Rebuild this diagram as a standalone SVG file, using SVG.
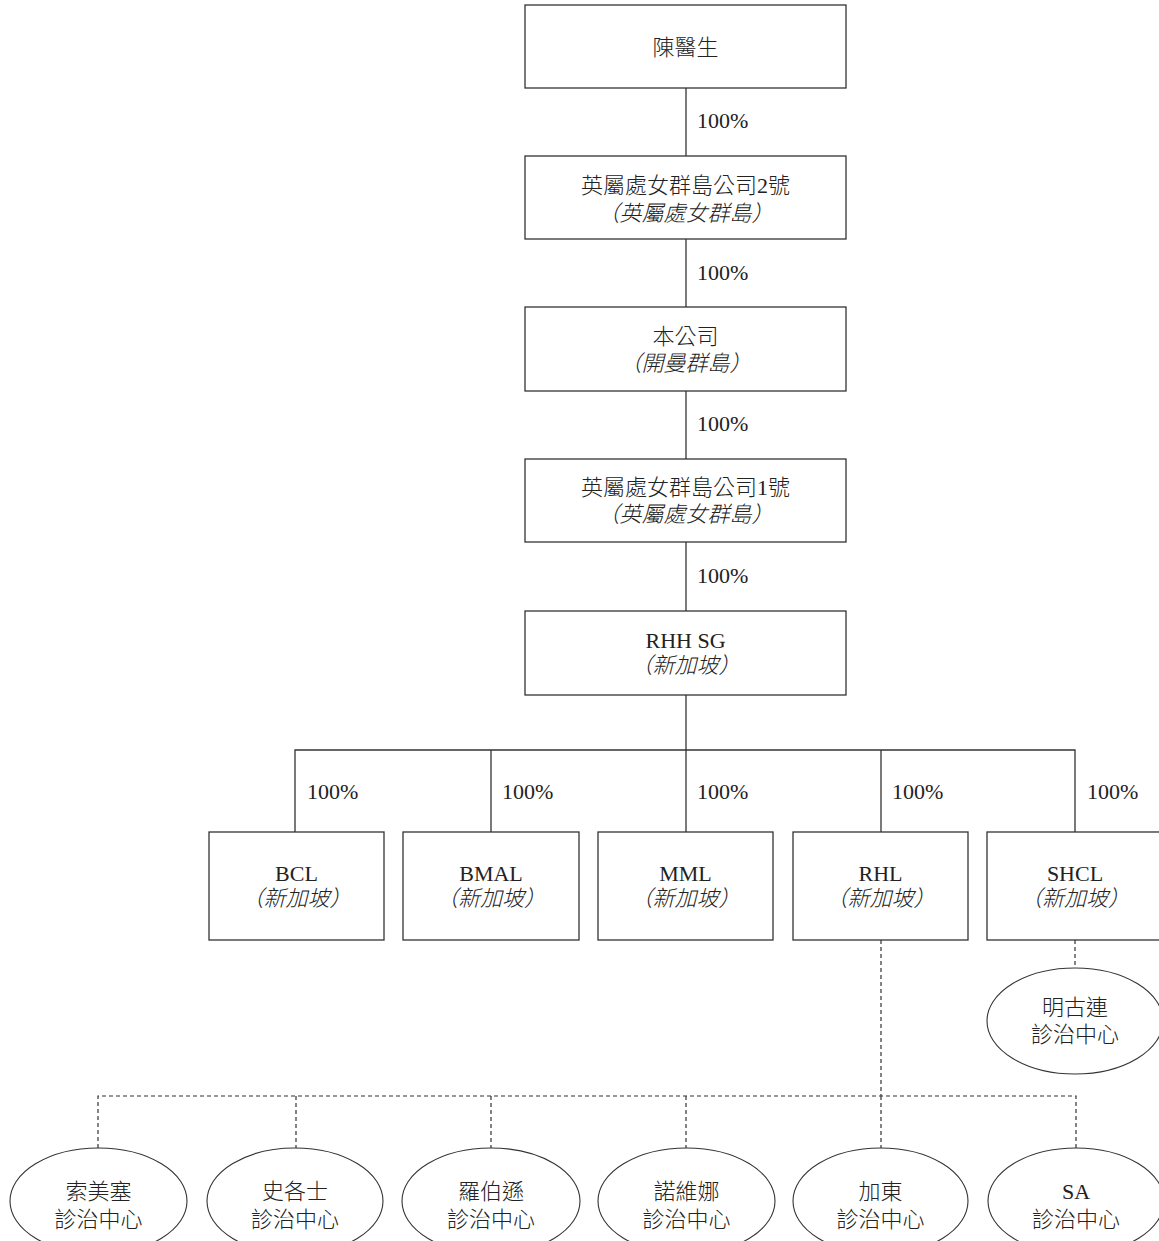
<svg xmlns="http://www.w3.org/2000/svg" width="1159" height="1241" viewBox="0 0 1159 1241">
<style>
.box{fill:#fff;stroke:#333;stroke-width:1.3}
.ell{fill:#fff;stroke:#333;stroke-width:1.1}
.ln{fill:none;stroke:#333;stroke-width:1.3}
.dl{fill:none;stroke:#333;stroke-width:1.2;stroke-dasharray:4 3}
text{font-family:"Liberation Serif","Noto Sans CJK TC",serif;font-size:22px;font-weight:300;fill:#222}
.c{text-anchor:middle}
.i{font-style:italic}
</style>
<rect width="1159" height="1241" fill="#fff"/>
<g id="connectors">
<line class="ln" x1="686" y1="88" x2="686" y2="156"/>
<line class="ln" x1="686" y1="239" x2="686" y2="307"/>
<line class="ln" x1="686" y1="391" x2="686" y2="459"/>
<line class="ln" x1="686" y1="542" x2="686" y2="611"/>
<line class="ln" x1="686" y1="695" x2="686" y2="750"/>
<polyline class="ln" points="295,832 295,750 1075,750 1075,832"/>
<line class="ln" x1="491" y1="750" x2="491" y2="832"/>
<line class="ln" x1="686" y1="750" x2="686" y2="832"/>
<line class="ln" x1="881" y1="750" x2="881" y2="832"/>
<text x="697" y="128">100%</text>
<text x="697" y="280">100%</text>
<text x="697" y="431">100%</text>
<text x="697" y="583">100%</text>
<text x="307" y="799">100%</text>
<text x="502" y="799">100%</text>
<text x="697" y="799">100%</text>
<text x="892" y="799">100%</text>
<text x="1087" y="799">100%</text>
<line class="dl" x1="1075" y1="940" x2="1075" y2="968"/>
<line class="dl" x1="881" y1="940" x2="881" y2="1096"/>
<polyline class="dl" points="98,1148 98,1096 1076,1096 1076,1148"/>
<line class="dl" x1="296" y1="1096" x2="296" y2="1148"/>
<line class="dl" x1="491" y1="1096" x2="491" y2="1148"/>
<line class="dl" x1="686" y1="1096" x2="686" y2="1148"/>
<line class="dl" x1="881" y1="1096" x2="881" y2="1148"/>
</g>
<g id="chen">
<rect class="box" x="525" y="5" width="321" height="83"/>
<text class="c" x="685.5" y="55">陳醫生</text>
</g>
<g id="bvi2">
<rect class="box" x="525" y="156" width="321" height="83"/>
<text class="c" x="685.5" y="193">英屬處女群島公司2號</text>
<text class="c i" x="685.5" y="221">（英屬處女群島）</text>
</g>
<g id="company">
<rect class="box" x="525" y="307" width="321" height="84"/>
<text class="c" x="685.5" y="344">本公司</text>
<text class="c i" x="685.5" y="371">（開曼群島）</text>
</g>
<g id="bvi1">
<rect class="box" x="525" y="459" width="321" height="83"/>
<text class="c" x="685.5" y="495">英屬處女群島公司1號</text>
<text class="c i" x="685.5" y="522">（英屬處女群島）</text>
</g>
<g id="rhhsg">
<rect class="box" x="525" y="611" width="321" height="84"/>
<text class="c" x="685.5" y="648">RHH SG</text>
<text class="c i" x="685.5" y="673">（新加坡）</text>
</g>
<g id="bcl">
<rect class="box" x="209" y="832" width="175" height="108"/>
<text class="c" x="296.5" y="881">BCL</text>
<text class="c i" x="296.5" y="906">（新加坡）</text>
</g>
<g id="bmal">
<rect class="box" x="403" y="832" width="176" height="108"/>
<text class="c" x="491" y="881">BMAL</text>
<text class="c i" x="491" y="906">（新加坡）</text>
</g>
<g id="mml">
<rect class="box" x="598" y="832" width="175" height="108"/>
<text class="c" x="685.5" y="881">MML</text>
<text class="c i" x="685.5" y="906">（新加坡）</text>
</g>
<g id="rhl">
<rect class="box" x="793" y="832" width="175" height="108"/>
<text class="c" x="880.5" y="881">RHL</text>
<text class="c i" x="880.5" y="906">（新加坡）</text>
</g>
<g id="shcl">
<rect class="box" x="987" y="832" width="176" height="108"/>
<text class="c" x="1075" y="881">SHCL</text>
<text class="c i" x="1075" y="906">（新加坡）</text>
</g>
<g id="minggulian">
<ellipse class="ell" cx="1075" cy="1021" rx="88" ry="53"/>
<text class="c" x="1075" y="1015">明古連</text>
<text class="c" x="1075" y="1042">診治中心</text>
</g>
<g id="suomeisai">
<ellipse class="ell" cx="98.5" cy="1201" rx="88.5" ry="53"/>
<text class="c" x="98.5" y="1199">索美塞</text>
<text class="c" x="98.5" y="1227">診治中心</text>
</g>
<g id="shigeshi">
<ellipse class="ell" cx="295" cy="1201" rx="88" ry="53"/>
<text class="c" x="295" y="1199">史各士</text>
<text class="c" x="295" y="1227">診治中心</text>
</g>
<g id="luobosun">
<ellipse class="ell" cx="491" cy="1201" rx="89" ry="53"/>
<text class="c" x="491" y="1199">羅伯遜</text>
<text class="c" x="491" y="1227">診治中心</text>
</g>
<g id="nuoweina">
<ellipse class="ell" cx="686.5" cy="1201" rx="88.5" ry="53"/>
<text class="c" x="686.5" y="1199">諾維娜</text>
<text class="c" x="686.5" y="1227">診治中心</text>
</g>
<g id="jiadong">
<ellipse class="ell" cx="880.5" cy="1201" rx="87.5" ry="53"/>
<text class="c" x="880.5" y="1199">加東</text>
<text class="c" x="880.5" y="1227">診治中心</text>
</g>
<g id="sa">
<ellipse class="ell" cx="1076" cy="1201" rx="88" ry="53"/>
<text class="c" x="1076" y="1199">SA</text>
<text class="c" x="1076" y="1227">診治中心</text>
</g>
</svg>
